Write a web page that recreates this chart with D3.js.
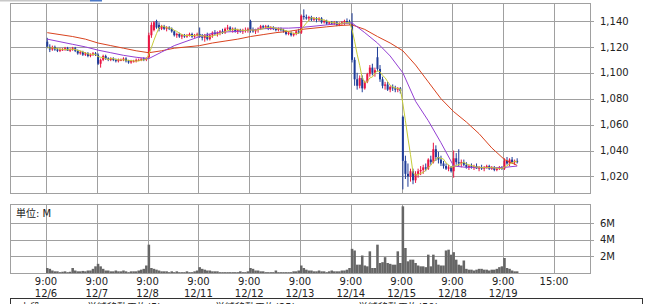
<!DOCTYPE html>
<html>
<head>
<meta charset="utf-8">
<script src="https://cdn.jsdelivr.net/npm/d3@7"></script>
<style>
  html, body { margin: 0; padding: 0; background: #fff; overflow: hidden; }
  svg { display: block; font-family: "DejaVu Sans", "Noto Sans CJK JP", sans-serif; }
</style>
</head>
<body>
<svg id="chart" width="653" height="304"></svg>
<script>
// ── data ─────────────────────────────────────────────
const dayLabels  = ['12/6', '12/7', '12/8', '12/11', '12/12', '12/13', '12/14', '12/15', '12/18', '12/19'];
const timeLabels = ['9:00', '9:00', '9:00', '9:00', '9:00', '9:00', '9:00', '9:00', '9:00', '9:00', '15:00'];
const BARS_PER_DAY = 20; // 15-minute bars, 9:00-11:30 / 12:30-15:00

const priceTicks = [1020, 1040, 1060, 1080, 1100, 1120, 1140];
const volTicks   = [2, 4, 6];
const legendLabels = ['上段', '単純移動平均(5)', '単純移動平均(25)', '単純移動平均(50)'];

// [open, high, low, close]
const ohlc = [
  // 12/6
  [1124,1127,1119,1120],[1120,1122,1116,1118],[1118,1121,1117,1120],[1120,1121,1117,1118],[1118,1119,1116,1117],
  [1117,1119,1116,1118],[1118,1119,1117,1118],[1118,1120,1117,1119],[1119,1120,1117,1117],[1117,1119,1116,1118],
  [1118,1120,1117,1119],[1119,1120,1116,1117],[1117,1118,1114,1115],[1115,1117,1114,1116],[1116,1117,1113,1114],
  [1114,1116,1113,1115],[1115,1116,1112,1113],[1113,1115,1112,1114],[1114,1116,1113,1115],[1115,1116,1113,1114],
  // 12/7
  [1114,1115,1106,1107],[1107,1111,1104,1110],[1110,1114,1109,1113],[1113,1114,1110,1111],[1111,1112,1109,1110],
  [1110,1112,1109,1111],[1111,1112,1109,1110],[1110,1111,1108,1109],[1109,1111,1108,1110],[1110,1111,1109,1110],
  [1110,1112,1109,1111],[1111,1112,1108,1109],[1109,1110,1107,1108],[1108,1110,1107,1109],[1109,1110,1108,1109],
  [1109,1111,1108,1110],[1110,1111,1109,1110],[1110,1111,1109,1111],[1111,1112,1109,1110],[1110,1112,1109,1111],
  // 12/8
  [1112,1131,1111,1129],[1129,1139,1127,1137],[1133,1140,1132,1139],[1140,1141,1134,1135],[1137,1139,1132,1134],
  [1134,1137,1133,1136],[1136,1137,1133,1134],[1134,1136,1132,1135],[1135,1136,1133,1134],[1134,1135,1131,1132],
  [1132,1133,1128,1129],[1129,1131,1127,1130],[1130,1131,1127,1128],[1128,1130,1126,1129],[1129,1130,1127,1128],
  [1128,1130,1127,1129],[1129,1131,1128,1130],[1130,1131,1127,1128],[1128,1130,1127,1129],[1129,1131,1128,1130],
  // 12/11
  [1130,1135,1127,1128],[1128,1130,1125,1127],[1127,1130,1124,1129],[1129,1131,1125,1126],[1126,1130,1125,1129],
  [1129,1132,1127,1131],[1131,1133,1129,1130],[1130,1132,1128,1131],[1131,1133,1129,1132],[1132,1134,1130,1131],
  [1131,1135,1130,1134],[1134,1137,1133,1135],[1135,1136,1132,1133],[1133,1135,1131,1134],[1134,1135,1131,1132],
  [1132,1134,1130,1133],[1133,1134,1131,1132],[1132,1134,1130,1133],[1133,1135,1131,1133],[1133,1135,1131,1134],
  // 12/12
  [1140,1141,1131,1133],[1133,1135,1131,1132],[1132,1134,1130,1133],[1133,1135,1131,1134],[1134,1137,1133,1136],
  [1136,1137,1134,1135],[1135,1137,1134,1136],[1136,1137,1133,1134],[1134,1136,1133,1135],[1135,1136,1133,1134],
  [1134,1135,1132,1133],[1133,1135,1132,1134],[1134,1135,1132,1133],[1133,1134,1131,1132],[1132,1133,1129,1130],
  [1130,1132,1129,1131],[1131,1132,1128,1129],[1129,1131,1128,1130],[1130,1133,1129,1132],[1132,1134,1130,1131],
  // 12/13
  [1131,1145,1130,1144],[1144,1149,1141,1143],[1143,1145,1141,1142],[1142,1144,1140,1143],[1143,1144,1140,1141],
  [1141,1143,1140,1142],[1142,1143,1139,1141],[1141,1143,1140,1142],[1142,1143,1138,1139],[1139,1141,1138,1140],
  [1140,1141,1137,1138],[1138,1140,1137,1139],[1139,1140,1137,1138],[1138,1140,1137,1139],[1139,1140,1136,1137],
  [1137,1139,1136,1138],[1138,1140,1137,1139],[1139,1141,1137,1140],[1140,1142,1138,1139],[1139,1141,1137,1138],
  // 12/14
  [1138,1146,1108,1110],[1110,1112,1090,1095],[1095,1100,1087,1090],[1090,1098,1088,1096],[1096,1098,1085,1088],
  [1088,1094,1087,1093],[1093,1100,1092,1099],[1099,1106,1097,1104],[1104,1107,1098,1100],[1100,1104,1097,1102],
  [1112,1120,1101,1103],[1103,1106,1093,1095],[1095,1097,1088,1090],[1090,1093,1087,1091],[1091,1093,1086,1087],
  [1087,1090,1085,1089],[1089,1091,1086,1088],[1088,1090,1085,1087],[1087,1089,1085,1088],[1088,1089,1084,1086],
  // 12/15
  [1066,1067,1010,1032],[1032,1036,1018,1022],[1022,1030,1012,1020],[1020,1026,1016,1024],[1024,1026,1014,1017],
  [1017,1024,1015,1022],[1022,1026,1019,1024],[1024,1028,1021,1025],[1025,1029,1022,1027],[1027,1030,1024,1026],
  [1026,1034,1025,1033],[1033,1036,1029,1031],[1031,1046,1030,1041],[1041,1044,1032,1035],[1035,1039,1030,1033],
  [1033,1036,1028,1030],[1030,1032,1026,1028],[1028,1030,1025,1026],[1026,1029,1024,1027],[1027,1028,1023,1024],
  // 12/18
  [1024,1040,1019,1034],[1034,1038,1029,1031],[1031,1041,1028,1030],[1030,1033,1027,1031],[1031,1033,1028,1029],
  [1029,1031,1026,1027],[1027,1029,1025,1028],[1028,1030,1026,1027],[1027,1029,1025,1028],[1028,1030,1026,1026],
  [1026,1028,1024,1027],[1027,1029,1025,1026],[1026,1028,1024,1027],[1027,1029,1026,1028],[1028,1029,1025,1026],
  [1026,1028,1025,1027],[1027,1028,1024,1025],[1025,1027,1024,1026],[1026,1028,1025,1027],[1027,1028,1025,1026],
  // 12/19
  [1026,1034,1025,1032],[1032,1035,1029,1030],[1030,1034,1028,1033],[1033,1035,1030,1031],[1031,1033,1029,1032],
  [1032,1034,1030,1031]
];

// volume per bar, millions
const volume = [
  0.6,0.5,0.3,0.2,0.2,0.1,0.15,0.2,0.1,0.15, 0.6,0.3,0.2,0.2,0.25,0.2,0.3,0.3,0.5,0.8,
  1.1,0.8,0.5,0.3,0.3,0.2,0.2,0.3,0.2,0.2, 0.3,0.2,0.1,0.2,0.2,0.2,0.3,0.4,0.5,0.9,
  3.4,0.6,0.5,0.4,0.3,0.2,0.2,0.2,0.1,0.2, 0.1,0.2,0.1,0.1,0.1,0.2,0.1,0.1,0.2,0.3,
  0.7,0.5,0.4,0.3,0.3,0.2,0.2,0.2,0.1,0.1, 0.1,0.1,0.1,0.1,0.1,0.1,0.2,0.1,0.1,0.2,
  0.6,0.5,0.3,0.3,0.2,0.2,0.1,0.1,0.1,0.1, 0.3,0.1,0.1,0.1,0.1,0.1,0.1,0.2,0.2,0.3,
  0.9,0.6,0.4,0.3,0.3,0.2,0.2,0.3,0.2,0.2, 0.1,0.2,0.3,0.2,0.2,0.2,0.3,0.3,0.4,0.6,
  2.9,2.7,1.0,1.0,2.1,0.9,0.8,2.6,0.6,0.6, 3.4,1.2,1.3,1.9,1.2,1.1,1.0,1.0,2.6,1.2,
  8.0,3.0,1.4,1.6,1.6,1.2,0.9,0.8,0.8,0.7, 2.2,0.8,2.2,1.6,1.0,0.9,0.9,2.7,2.8,2.2,
  2.5,1.6,1.0,0.9,1.5,0.5,0.4,0.4,0.3,0.4, 0.5,0.5,0.4,0.4,0.3,0.4,0.4,0.5,0.7,0.8,
  1.8,0.6,0.5,0.3,0.2,0.2
];

// moving averages, one value every 5 bars (bar 0, 5, 10 ...)
const MA_STEP = 5;
const ma25 = [
  1126,1124,1122,1120,1117.5,1115.5,1113.5,1112,1111,1116,
  1121,1124.5,1128,1130.5,1131.5,1132,1133,1134,1134.5,1134.5,
  1135,1136,1137,1138,1138.5,1131,1123,1113,1100,1078,
  1063,1046,1028,1027,1027,1026.5,1027,1028
];
const ma50 = [
  1131,1129.5,1128,1126,1123,1121,1119,1117,1115.5,1117,
  1119,1120,1121,1123,1124.5,1126,1128,1129.5,1131,1132,
  1133.5,1134.5,1135.5,1136.5,1137,1133.5,1128,1123,1117,1106,
  1093,1080,1070,1062,1053,1042,1033,1028.5
];

// ── style ────────────────────────────────────────────
const COLOR = {
  up:   '#ea1442',
  down: '#1f3d99',
  ma5:  '#c6cc38',
  ma25: '#9440d4',
  ma50: '#d9431f',
  grid: '#a0a0a0',
  vol:  '#666666',
  text: '#222222',
};

const PLOT = { left: 10, right: 590 };
const PRICE = { top: 3, bottom: 193 };
const VOL = { top: 204, bottom: 273 };

const svg = d3.select('#chart');

const x = d3.scaleLinear().domain([0, dayLabels.length * BARS_PER_DAY]).range([46, 554]);
const y = d3.scaleLinear().domain([1007.2, 1153.9]).range([PRICE.bottom, PRICE.top]);
const yv = d3.scaleLinear().domain([0, 8.28]).range([VOL.bottom, VOL.top]);
const cx = i => x(i + 0.5);
const snap = v => Math.round(v) + 0.5;

// scrollbar remnant at the very top
svg.append('rect').attr('x', 0).attr('y', 0).attr('width', 90).attr('height', 1.5).attr('fill', '#c8c8c8');
svg.append('rect').attr('x', 90).attr('y', 0).attr('width', 12).attr('height', 1.5).attr('fill', '#4a78c8');

// ── grids ────────────────────────────────────────────
const vlines = d3.range(dayLabels.length + 1).map(d => x(d * BARS_PER_DAY));

function drawGrid(top, bottom, scale, ticks) {
  const g = svg.append('g').attr('stroke', COLOR.grid).attr('stroke-width', 1).attr('fill', 'none');
  ticks.forEach(t => {
    g.append('line')
      .attr('x1', PLOT.left).attr('x2', PLOT.right + 4)
      .attr('y1', snap(scale(t))).attr('y2', snap(scale(t)));
  });
  vlines.forEach(vx => {
    g.append('line')
      .attr('x1', snap(vx)).attr('x2', snap(vx))
      .attr('y1', top).attr('y2', bottom);
  });
  g.append('rect')
    .attr('x', PLOT.left + 0.5).attr('y', top + 0.5)
    .attr('width', PLOT.right - PLOT.left).attr('height', bottom - top);
}
drawGrid(PRICE.top, PRICE.bottom, y, priceTicks);
drawGrid(VOL.top, VOL.bottom, yv, volTicks);

// ── right axis labels ────────────────────────────────
svg.append('g').selectAll('text')
  .data(priceTicks)
  .join('text')
  .attr('x', 600).attr('y', d => y(d) + 3.6)
  .attr('font-size', 10).attr('fill', COLOR.text)
  .text(d => d3.format(',')(d));

svg.append('g').selectAll('text')
  .data(volTicks)
  .join('text')
  .attr('x', 600).attr('y', d => yv(d) + 3.6)
  .attr('font-size', 10).attr('fill', COLOR.text)
  .text(d => d + 'M');

svg.append('text')
  .attr('x', 16).attr('y', 217)
  .attr('font-size', 10).attr('fill', COLOR.text)
  .text('単位: M');

// ── volume bars ──────────────────────────────────────
const bw = x(1) - x(0);
svg.append('g').selectAll('rect')
  .data(volume)
  .join('rect')
  .attr('x', (d, i) => x(i))
  .attr('y', d => yv(d))
  .attr('width', bw)
  .attr('height', d => VOL.bottom - yv(d))
  .attr('fill', COLOR.vol);

// ── candles ──────────────────────────────────────────
const candles = svg.append('g');
candles.selectAll('line')
  .data(ohlc)
  .join('line')
  .attr('x1', (d, i) => cx(i)).attr('x2', (d, i) => cx(i))
  .attr('y1', d => y(d[1])).attr('y2', d => y(d[2]))
  .attr('stroke', d => d[3] >= d[0] ? COLOR.up : COLOR.down)
  .attr('stroke-width', 1);

candles.selectAll('rect')
  .data(ohlc)
  .join('rect')
  .attr('x', (d, i) => cx(i) - 1)
  .attr('width', 2)
  .attr('y', d => y(Math.max(d[0], d[3])))
  .attr('height', d => Math.max(1, Math.abs(y(d[0]) - y(d[3]))))
  .attr('fill', d => d[3] >= d[0] ? COLOR.up : COLOR.down);

// ── moving averages ──────────────────────────────────
const closes = ohlc.map(d => d[3]);
const ma5 = closes.map((c, i) => d3.mean(closes.slice(Math.max(0, i - 4), i + 1)));

const line = d3.line().x(d => cx(d[0])).y(d => y(d[1]));

function drawLine(pts, color) {
  svg.append('path')
    .datum(pts)
    .attr('d', line)
    .attr('fill', 'none')
    .attr('stroke', color)
    .attr('stroke-width', 1);
}
drawLine(ma50.map((v, k) => [k * MA_STEP, v]), COLOR.ma50);
drawLine(ma25.map((v, k) => [k * MA_STEP, v]), COLOR.ma25);
drawLine(ma5.map((v, i) => [i, v]), COLOR.ma5);

// ── x labels ─────────────────────────────────────────
const xl = svg.append('g').attr('font-size', 10).attr('fill', COLOR.text).attr('text-anchor', 'middle');
vlines.forEach((vx, k) => {
  xl.append('text').attr('x', vx).attr('y', 285).text(timeLabels[k]);
  if (dayLabels[k]) xl.append('text').attr('x', vx).attr('y', 296.5).text(dayLabels[k]);
});

// ── legend (cut off at bottom) ───────────────────────
svg.append('rect')
  .attr('x', 10.5).attr('y', 298.5)
  .attr('width', 632).attr('height', 30)
  .attr('fill', 'none').attr('stroke', '#333');

const legendX = [20, 87, 215, 358];
svg.append('g').selectAll('text')
  .data(legendLabels)
  .join('text')
  .attr('x', (d, i) => legendX[i]).attr('y', 311)
  .attr('font-size', 10).attr('fill', COLOR.text)
  .text(d => d);
</script>
</body>
</html>
